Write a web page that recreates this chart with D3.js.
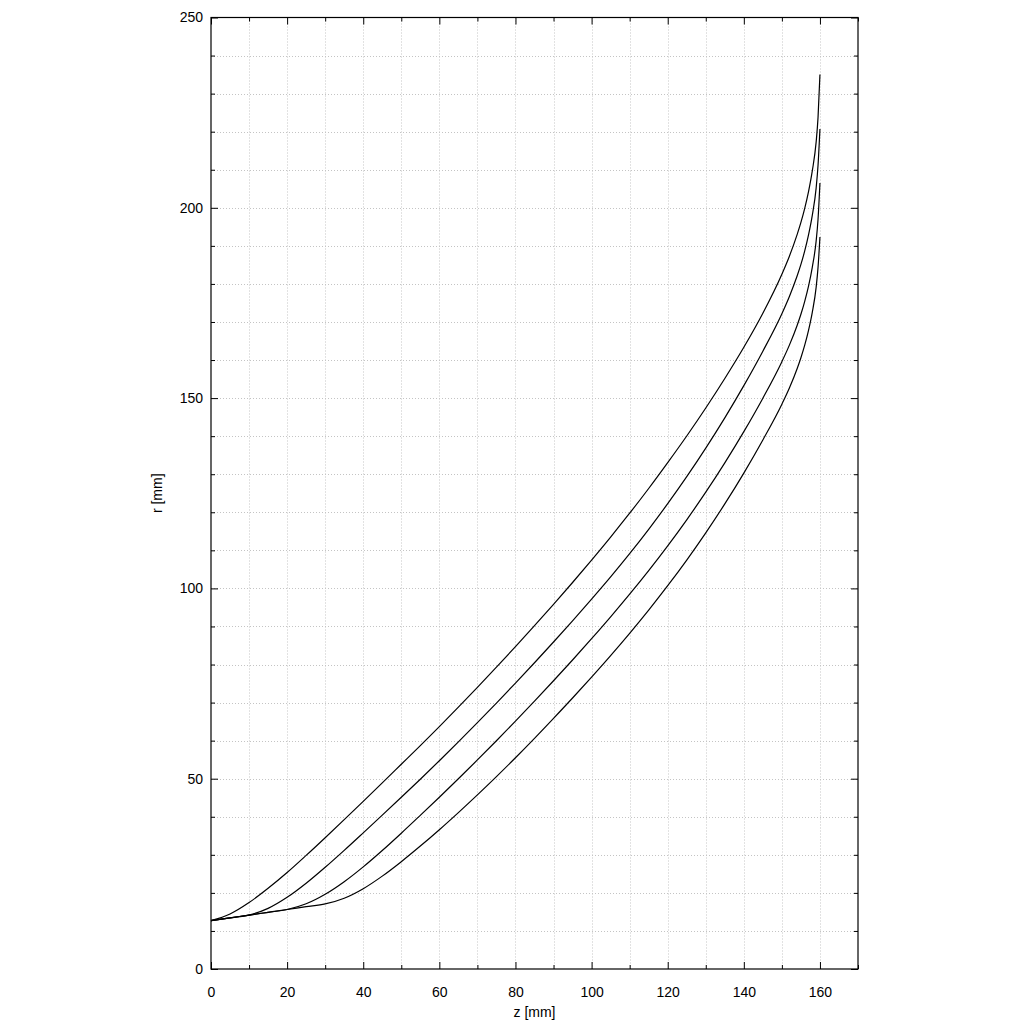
<!DOCTYPE html>
<html>
<head>
<meta charset="utf-8">
<script src="https://cdn.jsdelivr.net/npm/d3@7"></script>
<style>
  html, body { margin: 0; padding: 0; background: #fff; }
  svg { display: block; }
  text { font-family: "Liberation Sans", Arial, sans-serif; }
</style>
</head>
<body>
<div id="chart"></div>
<script>
// ---- data ----
const zValues = [0, 5, 10, 15, 20, 25, 30, 35, 40, 45, 50, 55, 60, 65, 70, 75, 80, 85, 90, 95, 100,
  105, 110, 115, 120, 125, 130, 135, 140, 145, 150, 152, 154, 155, 156, 157, 158, 159, 159.5, 160];

const rCurve1 = [12.7, 14.45, 17.45, 21.2, 25.35, 29.85, 34.5, 39.25, 44.05, 48.9, 53.8, 58.7, 63.7, 68.8, 74.0, 79.3, 84.7, 90.2, 95.8, 101.55, 107.45,
  113.5, 119.75, 126.25, 133.05, 140.05, 147.4, 155.15, 163.35, 172.3, 182.55, 187.35, 192.95, 196.15, 199.85, 204.25, 209.75, 217.25, 223.75, 235.0];
const rCurve2 = [12.7, 13.43, 14.17, 15.92, 18.82, 22.52, 26.72, 31.17, 35.77, 40.42, 45.12, 49.87, 54.72, 59.67, 64.72, 69.87, 75.12, 80.47, 85.92, 91.47, 97.17,
  103.02, 109.12, 115.52, 122.27, 129.37, 136.87, 144.82, 153.27, 162.32, 172.17, 176.77, 182.07, 185.12, 188.67, 192.87, 198.07, 205.17, 211.17, 220.7];
const rCurve3 = [12.7, 13.43, 14.17, 14.9, 15.63, 17.13, 19.63, 22.93, 26.83, 31.13, 35.68, 40.38, 45.13, 49.98, 54.93, 59.98, 65.13, 70.38, 75.73, 81.18, 86.78,
  92.53, 98.48, 104.68, 111.18, 118.03, 125.28, 132.98, 141.18, 149.98, 159.58, 163.98, 169.08, 172.03, 175.43, 179.43, 184.43, 191.23, 196.98, 206.5];
const rCurve4 = [12.7, 13.43, 14.17, 14.9, 15.63, 16.37, 17.1, 18.6, 21.1, 24.4, 28.2, 32.3, 36.6, 41.1, 45.75, 50.55, 55.5, 60.6, 65.85, 71.2, 76.7,
  82.35, 88.2, 94.3, 100.7, 107.45, 114.6, 122.2, 130.3, 139.0, 148.4, 152.7, 157.7, 160.6, 163.9, 167.8, 172.6, 179.1, 184.35, 192.35];

const xTickLabels = [0, 20, 40, 60, 80, 100, 120, 140, 160];
const yTickLabels = [0, 50, 100, 150, 200, 250];
const xDomain = [0, 170];
const yDomain = [0, 250];

(function () {
// ---- layout ----
const W = 1024, H = 1024;
const pL = 211, pT = 17.5, pR = 858, pB = 969;

const svg = d3.select("#chart").append("svg").attr("width", W).attr("height", H);

const x = d3.scaleLinear().domain(xDomain).range([pL, pR]);
const y = d3.scaleLinear().domain(yDomain).range([pB, pT]);

const minorX = d3.range(0, 171, 10);
const minorY = d3.range(0, 251, 10);

// grid
const grid = svg.append("g").attr("stroke", "#c4c4c4").attr("stroke-width", 1).attr("stroke-dasharray", "1,2");
minorX.filter(v => v > 0 && v < 170).forEach(v => {
  grid.append("line").attr("x1", Math.round(x(v)) + 0.5).attr("x2", Math.round(x(v)) + 0.5).attr("y1", pT).attr("y2", pB);
});
minorY.filter(v => v > 0 && v < 250).forEach(v => {
  grid.append("line").attr("y1", Math.round(y(v)) + 0.5).attr("y2", Math.round(y(v)) + 0.5).attr("x1", pL).attr("x2", pR);
});

function tickLen(v, labels) { return labels.includes(v) ? 7 : 4; }

const axB = svg.append("g").attr("transform", `translate(0,${pB})`)
  .call(d3.axisBottom(x).tickValues(minorX).tickSize(0).tickFormat(v => xTickLabels.includes(v) ? v : ""));
axB.select(".domain").remove();
axB.selectAll(".tick line").attr("y2", d => -tickLen(d, xTickLabels)).attr("stroke", "#000");
axB.selectAll(".tick text").attr("y", 18).attr("font-size", 14).attr("fill", "#000").attr("font-family", "Liberation Sans, Arial, sans-serif");

const axT = svg.append("g").attr("transform", `translate(0,${pT})`)
  .call(d3.axisTop(x).tickValues(minorX).tickSize(0).tickFormat(""));
axT.select(".domain").remove();
axT.selectAll(".tick line").attr("y2", d => tickLen(d, xTickLabels)).attr("stroke", "#000");

const axL = svg.append("g").attr("transform", `translate(${pL},0)`)
  .call(d3.axisLeft(y).tickValues(minorY).tickSize(0).tickFormat(v => yTickLabels.includes(v) ? v : ""));
axL.select(".domain").remove();
axL.selectAll(".tick line").attr("x2", d => tickLen(d, yTickLabels)).attr("stroke", "#000");
axL.selectAll(".tick text").attr("x", -8).attr("font-size", 14).attr("fill", "#000").attr("font-family", "Liberation Sans, Arial, sans-serif");

const axR = svg.append("g").attr("transform", `translate(${pR},0)`)
  .call(d3.axisRight(y).tickValues(minorY).tickSize(0).tickFormat(""));
axR.select(".domain").remove();
axR.selectAll(".tick line").attr("x2", d => -tickLen(d, yTickLabels)).attr("stroke", "#000");

// frame
svg.append("rect").attr("x", pL).attr("y", pT).attr("width", pR - pL).attr("height", pB - pT)
  .attr("fill", "none").attr("stroke", "#000").attr("stroke-width", 1.2);

// curves
const series = [rCurve1, rCurve2, rCurve3, rCurve4];
const line = d3.line().x(d => x(d[0])).y(d => y(d[1])).curve(d3.curveMonotoneX);
series.forEach(rs => {
  svg.append("path").datum(zValues.map((z, i) => [z, rs[i]]))
    .attr("d", line).attr("fill", "none").attr("stroke", "#000").attr("stroke-width", 1.2);
});

// axis titles
svg.append("text").attr("x", (pL + pR) / 2).attr("y", 1017).attr("text-anchor", "middle")
  .attr("font-size", 14).text("z [mm]");
svg.append("text").attr("transform", `translate(162,${(pT + pB) / 2}) rotate(-90)`).attr("text-anchor", "middle")
  .attr("font-size", 14).text("r [mm]");
})();
</script>
</body>
</html>
